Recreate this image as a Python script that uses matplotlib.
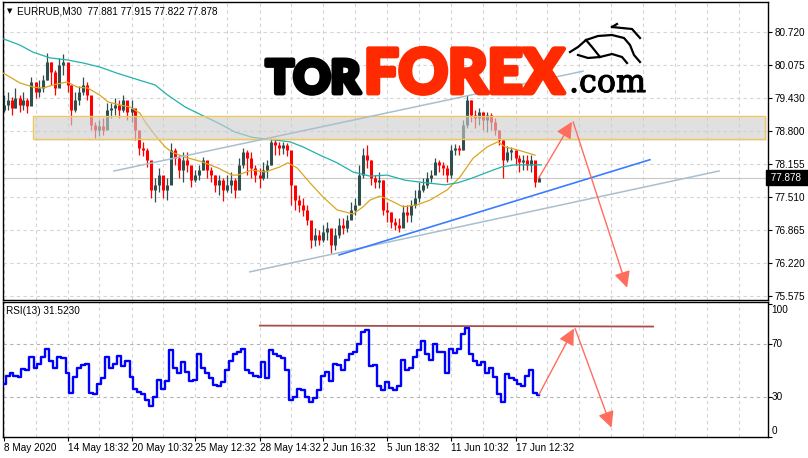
import numpy as np
import matplotlib
matplotlib.use('Agg')
import matplotlib.pyplot as plt
import matplotlib.patheffects as pe
from matplotlib.patches import Rectangle
from matplotlib.transforms import blended_transform_factory

# EURRUB M30 bars (one bar per ~4 px)
first_open = 79.20
closes = [79.30, 79.40, 79.24, 79.44, 79.30, 79.40, 79.28, 79.75, 79.55, 79.63,
          79.79, 80.14, 79.94, 79.63, 80.08, 80.14, 79.69, 79.20, 79.40, 79.55,
          79.69, 79.49, 78.91, 78.81, 78.89, 78.81, 79.20, 79.24, 79.30, 79.20,
          79.40, 79.16, 79.24, 78.81, 78.46, 78.42, 78.23, 77.64, 77.74, 77.93,
          77.64, 77.74, 78.42, 78.26, 78.03, 78.23, 78.13, 77.83, 77.93, 78.03,
          78.23, 78.03, 77.93, 77.74, 77.83, 77.64, 77.74, 77.83, 77.64, 78.13,
          78.38, 78.26, 78.07, 77.93, 77.87, 78.03, 78.13, 78.58, 78.52, 78.46,
          78.52, 78.42, 77.74, 77.44, 77.35, 77.25, 77.05, 76.66, 76.76, 76.66,
          76.82, 76.90, 76.57, 76.76, 76.96, 76.90, 77.05, 77.25, 77.35, 77.93,
          78.32, 78.23, 77.87, 77.80, 77.83, 77.25, 77.21, 77.01, 76.96, 76.90,
          77.21, 77.15, 77.35, 77.48, 77.64, 77.74, 77.87, 77.93, 78.19, 78.13,
          78.07, 77.93, 78.42, 78.46, 78.42, 78.91, 79.40, 79.10, 79.05, 79.16,
          79.01, 79.10, 78.97, 78.81, 78.62, 78.23, 78.38, 78.42, 78.26, 78.19,
          78.23, 78.13, 78.23, 77.80, 77.878]
highs = [79.49, 79.55, 79.46, 79.63, 79.49, 79.55, 79.44, 79.85, 79.75, 79.79,
         79.89, 80.31, 80.14, 79.98, 80.22, 80.30, 79.98, 79.69, 79.55, 79.67,
         79.85, 79.75, 79.44, 78.97, 79.01, 79.05, 79.34, 79.34, 79.44, 79.40,
         79.49, 79.36, 79.40, 79.20, 78.71, 78.58, 78.46, 78.13, 77.87, 78.07,
         77.83, 77.87, 78.56, 78.46, 78.32, 78.38, 78.38, 78.07, 78.03, 78.13,
         78.28, 78.19, 78.09, 77.93, 77.93, 77.87, 77.93, 77.99, 77.87, 78.26,
         78.46, 78.42, 78.38, 78.13, 78.07, 78.19, 78.23, 78.65, 78.65, 78.58,
         78.58, 78.56, 78.32, 77.64, 77.54, 77.48, 77.35, 77.01, 76.90, 76.86,
         76.96, 77.01, 76.82, 76.90, 77.09, 77.09, 77.15, 77.40, 77.48, 78.13,
         78.46, 78.52, 78.23, 77.93, 77.99, 77.83, 77.40, 77.21, 77.09, 77.09,
         77.35, 77.35, 77.44, 77.64, 77.80, 77.87, 77.99, 78.03, 78.26, 78.23,
         78.19, 78.13, 78.52, 78.54, 78.52, 79.01, 79.49, 79.40, 79.20, 79.24,
         79.16, 79.16, 79.14, 79.05, 78.81, 78.62, 78.50, 78.48, 78.42, 78.32,
         78.32, 78.32, 78.32, 78.13, 77.915]
lows = [79.16, 79.20, 79.10, 79.24, 79.16, 79.20, 79.14, 79.40, 79.44, 79.46,
        79.55, 79.79, 79.69, 79.49, 79.75, 79.89, 79.55, 78.91, 79.16, 79.30,
        79.49, 79.40, 78.81, 78.65, 78.69, 78.71, 78.97, 79.05, 79.10, 79.05,
        79.16, 79.01, 78.97, 78.62, 78.32, 78.30, 78.09, 77.48, 77.40, 77.60,
        77.48, 77.44, 77.83, 78.13, 77.87, 77.80, 77.99, 77.70, 77.80, 77.83,
        78.03, 77.87, 77.80, 77.60, 77.54, 77.42, 77.60, 77.58, 77.48, 77.68,
        78.07, 77.93, 77.87, 77.80, 77.68, 77.83, 77.87, 78.13, 78.32, 78.32,
        78.34, 78.30, 77.35, 77.25, 77.21, 77.13, 76.96, 76.51, 76.55, 76.57,
        76.62, 76.66, 76.41, 76.47, 76.70, 76.78, 76.82, 77.09, 77.15, 77.35,
        77.87, 78.07, 77.74, 77.68, 77.68, 77.15, 77.01, 76.90, 76.86, 76.82,
        77.01, 77.01, 77.01, 77.29, 77.40, 77.60, 77.68, 77.80, 77.99, 77.99,
        77.93, 77.80, 77.87, 78.32, 78.32, 78.42, 78.85, 78.97, 78.85, 78.91,
        78.81, 78.77, 78.81, 78.71, 78.52, 77.87, 78.19, 78.23, 78.13, 77.99,
        78.03, 78.03, 77.99, 77.70, 77.822]

rsi = [40, 46, 48, 46, 45, 51, 50, 60, 52, 55,
       60, 66, 57, 52, 60, 59, 48, 33, 45, 52,
       54, 55, 33, 32, 40, 44, 60, 52, 55, 61,
       53, 57, 45, 36, 34, 32, 28, 23, 30, 43,
       36, 42, 65, 52, 48, 56, 49, 42, 43, 62,
       52, 48, 44, 39, 38, 41, 50, 57, 62, 64,
       66, 50, 48, 46, 45, 56, 44, 65, 62, 61,
       59, 50, 28, 30, 36, 35, 30, 26, 29, 35,
       46, 49, 42, 55, 54, 50, 58, 62, 64, 70,
       79, 80, 53, 54, 38, 35, 41, 37, 35, 38,
       58, 50, 52, 60, 65, 72, 62, 58, 70, 64,
       64, 48, 66, 63, 66, 77, 82, 62, 57, 54,
       56, 48, 52, 45, 32, 26, 47, 44, 43, 40,
       38, 46, 50, 33, 31.52]

# moving averages (bar index, price)
fast_x = [0, 4.1, 7.4, 9.9, 12.4, 15.9, 18.4, 21.1, 24.1, 26.1, 29.1, 31.6, 34.1, 35.4,
          37.9, 40.4, 42.1, 45.4, 49.6, 53.6, 57.1, 58.6, 62.1, 65.4, 69.1, 71.1, 73.4,
          76.6, 79.9, 83.4, 87.4, 89.9, 91.6, 94.1, 96.6, 99.9, 103.4, 106.6, 110.9,
          114.1, 117.4, 120.9, 123.6, 125.4, 128.6, 132.9]
fast_ma = [79.92, 79.73, 79.65, 79.63, 79.69, 79.75, 79.65, 79.63, 79.49, 79.36, 79.30,
           79.26, 79.14, 78.97, 78.71, 78.48, 78.38, 78.28, 78.19, 78.07, 77.93, 77.93,
           78.03, 77.99, 78.09, 78.17, 78.07, 77.78, 77.50, 77.25, 77.17, 77.31, 77.44,
           77.52, 77.44, 77.31, 77.35, 77.44, 77.64, 77.89, 78.26, 78.48, 78.58, 78.48,
           78.42, 78.32]
slow_x = [0, 4.1, 7.4, 11.6, 15.9, 19.9, 24.1, 28.4, 32.9, 37.9, 41.1, 45.4, 49.6, 53.6,
          57.9, 62.1, 67.1, 71.6, 74.9, 79.1, 83.4, 87.4, 91.6, 95.9, 100.4, 105.4, 110.4,
          113.6, 117.1, 121.1, 124.6, 127.9, 134.5]
slow_ma = [80.59, 80.47, 80.33, 80.22, 80.18, 80.12, 80.04, 79.92, 79.81, 79.69, 79.49,
           79.26, 79.10, 78.95, 78.77, 78.67, 78.62, 78.58, 78.48, 78.32, 78.17, 77.99,
           77.91, 77.93, 77.83, 77.78, 77.74, 77.78, 77.87, 77.99, 78.09, 78.13, 78.13]

price_ticks = [80.720, 80.075, 79.430, 78.800, 78.155, 77.510, 76.865, 76.220, 75.575]
date_ticks = [0, 16, 32, 48, 64, 80, 96, 112, 128]
date_labels = ['8 May 2020', '14 May 18:32', '20 May 10:32', '25 May 12:32',
               '28 May 14:32', '2 Jun 16:32', '5 Jun 18:32', '11 Jun 10:32',
               '17 Jun 12:32']
last_price = 77.878
rsi_last = 31.5230

# drawn objects (bar index, price / rsi value)
zone = (7.45, 190.3, 78.63, 79.084)
channel_top = ([27.6, 144.9], [78.01, 79.96])
channel_bottom = ([61.6, 178.9], [76.04, 78.01])
support = ([83.9, 161.6], [76.37, 78.23])
arrow_up = ([133.7, 142.1], [77.86, 78.97])
arrow_down = ([142.4, 155.9], [78.97, 75.73])
rsi_level = ([64.1, 162.4], [83.5, 82.8])
rsi_up = ([133.9, 142.6], [32.0, 81.3])
rsi_down = ([142.9, 152.0], [81.3, 7.0])

plt.rcParams['font.family'] = ['Liberation Sans', 'DejaVu Sans']
W, H = 808, 458
fig = plt.figure(figsize=(W / 100, H / 100), dpi=100)
ax = fig.add_axes([3 / W, (H - 300) / H, 765 / W, 298 / H])
ax2 = fig.add_axes([3 / W, (H - 437) / H, 765 / W, 135 / H])

grid_c = '#d4d4d4'
bull, bear = '#2f4f4f', '#ff0000'
arrow_c = '#ff6d5e'
fs = 7.2

for a in (ax, ax2):
    a.set_xlim(-0.125, 191.125)
    for s in a.spines.values():
        s.set_linewidth(1.0)
        s.set_color('black')
    for gx in range(0, 191, 8):
        a.axvline(gx, color=grid_c, lw=0.8, ls=(0, (3, 3)), zorder=0.5)

ax.set_ylim(75.49, 81.311)
ax2.set_ylim(0, 101.2)

# candles
n = len(closes)
xs = np.arange(n)
opens = [first_open] + closes[:-1]
cols = [bull if c >= o else bear for o, c in zip(opens, closes)]
ax.vlines(xs, lows, highs, colors=cols, lw=0.9, zorder=2)
ax.vlines(xs, np.minimum(opens, closes), np.maximum(opens, closes), colors=cols,
          lw=2.2, zorder=2)

ax.plot(fast_x, fast_ma, color='#daa520', lw=0.9, zorder=3)
ax.plot(slow_x, slow_ma, color='#20b2aa', lw=0.9, zorder=3)

for p in price_ticks:
    ax.axhline(p, color=grid_c, lw=0.8, ls=(0, (3, 3)), zorder=0.5)
ax.axhline(last_price, color='#c8c8c8', lw=0.8, zorder=1)

# support / resistance zone
x0, x1, y0, y1 = zone
ax.add_patch(Rectangle((x0 + 0.5, y0 - 0.04), x1 - x0, y1 - y0, facecolor='#000000',
                       alpha=0.06, edgecolor='none', zorder=3.5))
ax.add_patch(Rectangle((x0, y0), x1 - x0, y1 - y0, facecolor='#d6d6d6', alpha=0.6,
                       edgecolor='none', zorder=4))
ax.add_patch(Rectangle((x0, y0), x1 - x0, y1 - y0, fill=False, edgecolor='#f2c65a',
                       lw=1.0, zorder=4.1))

ax.plot(*channel_top, color='#a9bfcf', lw=1.1, zorder=5)
ax.plot(*channel_bottom, color='#a9bfcf', lw=1.1, zorder=5)
ax.plot(*support, color='#3a7dff', lw=1.2, zorder=5)


def arrow(a, seg):
    (xa, xb), (ya, yb) = seg
    a.annotate('', xy=(xb, yb), xytext=(xa, ya), zorder=6,
               arrowprops=dict(arrowstyle='-|>,head_length=0.7,head_width=0.35',
                               color=arrow_c, lw=1.0, mutation_scale=14,
                               shrinkA=0, shrinkB=0))


arrow(ax, arrow_up)
arrow(ax, arrow_down)

ax.yaxis.tick_right()
ax.set_yticks(price_ticks)
ax.set_yticklabels(['%.3f' % p for p in price_ticks], fontsize=fs)
ax.tick_params(axis='y', length=3, width=0.8, pad=2)
ax.set_xticks([])

tr = blended_transform_factory(ax.transAxes, ax.transData)
ax.text(1.0, last_price, ' %.3f   ' % last_price, transform=tr, ha='left', va='center',
        fontsize=fs, color='white',
        bbox=dict(boxstyle='square,pad=0.25', fc='black', ec='black'), zorder=10,
        clip_on=False)

# RSI panel
ax2.plot(xs, rsi, color='#0000ff', lw=1.7, drawstyle='steps-mid', zorder=3)
for lv in (70, 30):
    ax2.axhline(lv, color='#b4b4b4', lw=0.8, ls=(0, (3, 3)), zorder=0.5)
ax2.plot(*rsi_level, color='#a84c4c', lw=1.3, zorder=4)
arrow(ax2, rsi_up)
arrow(ax2, rsi_down)

ax2.yaxis.tick_right()
ax2.set_yticks([100, 70, 30, 0])
ax2.set_yticklabels([])
ax2.tick_params(axis='y', length=3, width=0.8)
tr2 = blended_transform_factory(ax2.transAxes, ax2.transData)
for v, va, off in ((100, 'top', -1), (70, 'center', 0), (30, 'center', 0), (0, 'bottom', 1)):
    ax2.text(1.0045, v + off, str(v), transform=tr2, ha='left', va=va, fontsize=fs,
             clip_on=False)

ax2.set_xticks(date_ticks)
ax2.set_xticklabels(date_labels, fontsize=fs)
for lab in ax2.get_xticklabels():
    lab.set_ha('left')
ax2.tick_params(axis='x', length=3, width=0.8, pad=1.5)

fig.text(7 / W, 1 - 11 / H, '▼', fontsize=5, va='center', family='DejaVu Sans')
fig.text(17 / W, 1 - 11 / H, 'EURRUB,M30  77.881 77.915 77.822 77.878', fontsize=fs,
         va='center')
fig.text(6 / W, 1 - 311 / H, 'RSI(13) %.4f' % rsi_last, fontsize=fs, va='center')

# logo
renderer = fig.canvas.get_renderer()


def fit_text(x, y, s, width, stroke, **kw):
    t = fig.text(x / W, 1 - y / H, s, va='baseline', ha='left', zorder=20, **kw)
    w = t.get_window_extent(renderer).width
    t.set_fontsize(t.get_fontsize() * width / w)
    if stroke:
        t.set_path_effects([pe.withStroke(linewidth=stroke, foreground=kw['color'])])
    return t


fit_text(266, 93, 'TOR', 94, 3.5, fontsize=38, color='black',
         family=['Lato', 'DejaVu Sans'], fontweight='black')
fit_text(364, 93, 'FOREX', 200, 3.5, fontsize=51, color='#ff2a00',
         family=['Lato', 'DejaVu Sans'], fontweight='black')
fit_text(569, 92, '.com', 77, 0.8, fontsize=24, color='black', family='DejaVu Serif')

# bull icon next to the logo (figure pixels)
bull_lines = [
    [(570, 52), (578, 47), (586, 40), (598, 36), (612, 35), (624, 38), (630, 45),
     (634, 55), (640, 62)],
    [(578, 55), (588, 58), (600, 57), (612, 54), (622, 57), (627, 63)],
    [(586, 40), (592, 47), (600, 57)],
    [(612, 27), (632, 29), (640, 38)],
    [(612, 27), (617, 24)],
]
for pts in bull_lines:
    px = [p[0] / W for p in pts]
    py = [1 - p[1] / H for p in pts]
    fig.add_artist(plt.Line2D(px, py, color='black', lw=1.6, transform=fig.transFigure,
                              zorder=20))

fig.savefig('out.png', dpi=100)
